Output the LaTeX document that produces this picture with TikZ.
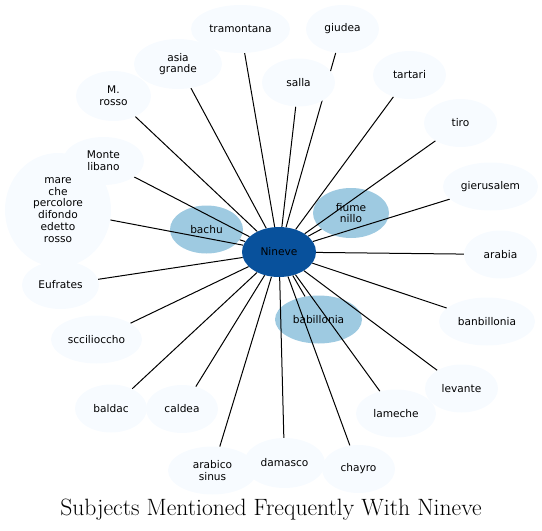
\documentclass[tikz,border=0pt]{standalone}
\usepackage{fontspec}
\setsansfont{DejaVu Sans}
\usepackage{tikz}
\usetikzlibrary{shapes,positioning}
\definecolor{palenode}{HTML}{F7FBFF}
\definecolor{midnode}{HTML}{9ECAE1}
\definecolor{hubnode}{HTML}{08519C}
\pgfdeclarelayer{lower}
\pgfdeclarelayer{edgelayer}
\pgfsetlayers{lower,edgelayer,main}

\begin{document}
\begin{tikzpicture}[x=1pt,y=-1pt,
    place/.style={ellipse,fill=palenode,inner sep=0pt,align=center,
      minimum width=73pt,minimum height=48pt,
      font=\sffamily\fontsize{10.6}{11.8}\selectfont},
    midplace/.style={place,fill=midnode},
    hub/.style={place,fill=hubnode,minimum width=74pt,minimum height=50pt},
    link/.style={line width=1pt}]
  \useasboundingbox (0,0) rectangle (542,531);

  % Centre
  \node[hub] (nineve) at (279,252) {Nineve};

  % Frequent subjects
  \begin{pgfonlayer}{lower}
    \node[midplace] (bachu) at (206.5,229.5) {bachu};
    \node[midplace,minimum width=76pt,minimum height=50pt] (fiume) at (351,213) {fiume\\nillo};
    \node[midplace,minimum width=87pt] (babillonia) at (318.5,319.5) {babillonia};
  \end{pgfonlayer}

  % Other subjects
  \node[place,minimum width=106pt,minimum height=114pt] (mare) at (58,210)
    {mare\\che\\percolore\\difondo\\edetto\\rosso};
  \node[place,minimum width=99pt] (tramontana) at (240.5,29) {tramontana};
  \node[place] (giudea) at (342.5,29) {giudea};
  \node[place] (salla) at (298.5,82.5) {salla};
  \node[place,minimum width=88pt,minimum height=50pt] (asia) at (178,64) {asia\\grande};
  \node[place,minimum width=75pt,minimum height=50pt] (mrosso) at (113.5,96) {M.\\rosso};
  \node[place,minimum width=81pt] (libano) at (103.5,161) {Monte\\libano};
  \node[place] (tartari) at (409.5,75) {tartari};
  \node[place] (tiro) at (460.5,123) {tiro};
  \node[place,minimum width=95pt] (gierusalem) at (490.5,186.5) {gierusalem};
  \node[place] (arabia) at (500.5,254.5) {arabia};
  \node[place,minimum width=96pt] (banbillonia) at (487,321.5) {banbillonia};
  \node[place] (levante) at (461.5,388.5) {levante};
  \node[place,minimum width=80pt] (lameche) at (396,413.5) {lameche};
  \node[place] (chayro) at (358.5,469) {chayro};
  \node[place,minimum width=81pt,minimum height=50pt] (damasco) at (284.5,463) {damasco};
  \node[place,minimum width=89pt] (sinus) at (212.5,470.5) {arabico\\sinus};
  \node[place,minimum width=77pt] (eufrates) at (60.5,285) {Eufrates};
  \node[place,minimum width=91pt] (sccilioccho) at (96.5,339.5) {sccilioccho};
  \node[place,minimum width=72pt] (baldac) at (111,408.5) {baldac};
  \node[place,minimum width=72pt] (caldea) at (182,409) {caldea};

  % Links
  \begin{pgfonlayer}{edgelayer}
    \foreach \n in {tramontana,giudea,salla,asia,mrosso,libano,mare,bachu,
      tartari,tiro,gierusalem,fiume,arabia,babillonia,banbillonia,levante,
      lameche,chayro,damasco,sinus,eufrates,sccilioccho,baldac,caldea}
      \draw[link] (nineve) -- (\n);
  \end{pgfonlayer}

  % Title
  \node[font=\fontsize{23.6}{28}\selectfont] (title) at (271,510)
    {Subjects Mentioned Frequently With Nineve};
\end{tikzpicture}
\end{document}
